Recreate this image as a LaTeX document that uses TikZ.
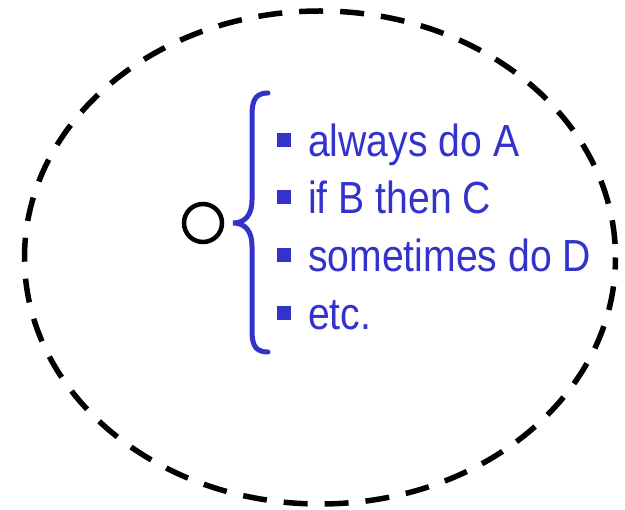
\documentclass[tikz,border=0pt]{standalone}
\usepackage{fontspec}
\setmainfont[FakeStretch=0.87]{Liberation Sans}
\usetikzlibrary{positioning}
\definecolor{ruleblue}{RGB}{51,51,204}

\begin{document}
\begin{tikzpicture}[x=1pt, y=-1pt,
    every node/.style={font=\fontsize{45}{54}\selectfont},
    item/.style={text=ruleblue, inner sep=0pt, anchor=base west},
    bulletsq/.style={fill=ruleblue, minimum size=14pt, inner sep=0pt}]
        \useasboundingbox (0,0) rectangle (625,510);
        \draw[line width=5.5pt, dash pattern=on 24pt off 17pt, dash phase=12pt] (320,257.5) ellipse [x radius=295.5, y radius=246.5];
        \node[draw, circle, line width=4.5pt, minimum size=38pt, inner sep=0pt] (agent) at (203,223) {};
        \coordinate (tip) at (233,223);
        \coordinate (top) at (268,93);
        \coordinate (bottom) at (268,352);
        \node[bulletsq] (b1) at (284,140) {};
        \node[bulletsq] (b2) at (284,197) {};
        \node[bulletsq] (b3) at (284,255) {};
        \node[bulletsq] (b4) at (284,313) {};
        \node[item] (t1) at (308,157) {always do A};
        \node[item] (t2) at (308,214) {if B then C};
        \node[item] (t3) at (308,272) {sometimes do D};
        \node[item] (t4) at (308,330) {etc.};
        \draw[ruleblue, line width=5pt, line cap=round] (top) .. controls (252,93) and (252,105) .. (252,120)
          -- (252,200) .. controls (252,215) and (245,223) .. (tip)
          .. controls (245,223) and (252,231) .. (252,246) -- (252,326)
          .. controls (252,341) and (252,352) .. (bottom);
      \end{tikzpicture}
\end{document}
